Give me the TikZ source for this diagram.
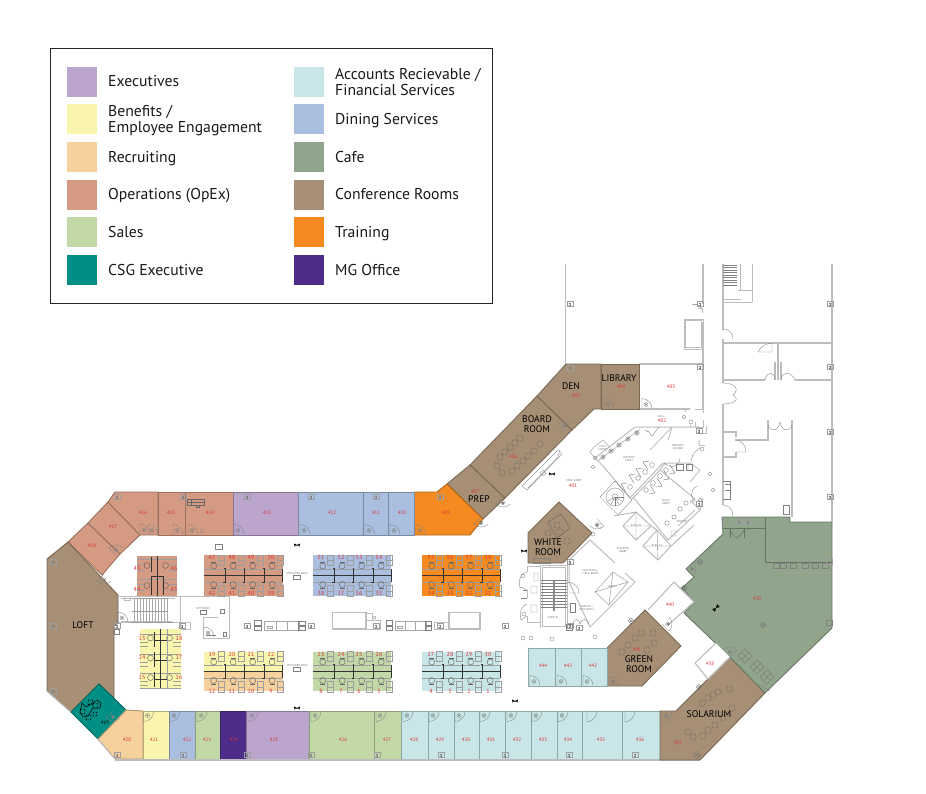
\documentclass[tikz,border=0pt]{standalone}
\usepackage{fontspec}
\setmainfont{PT Sans}
\definecolor{cexec}{HTML}{BBA5CC}
\definecolor{cben}{HTML}{F9F5AC}
\definecolor{crec}{HTML}{F6D09D}
\definecolor{cops}{HTML}{D59A82}
\definecolor{csal}{HTML}{C2D9A7}
\definecolor{ccsg}{HTML}{008F85}
\definecolor{cacc}{HTML}{C8E6E8}
\definecolor{cdin}{HTML}{AABFE0}
\definecolor{ccaf}{HTML}{90A58B}
\definecolor{ccon}{HTML}{A68F75}
\definecolor{ctra}{HTML}{F58B20}
\definecolor{cmg}{HTML}{4E2D8A}
\definecolor{cwall}{HTML}{BDBDBD}
\definecolor{cred}{HTML}{DC3236}
\tikzset{
 rm/.style={fill=#1,draw=#1!72!black,line width=0.9pt,line join=miter},
 wall/.style={draw=cwall,line width=0.8pt},
 hwall/.style={draw=cwall,line width=1.5pt},
 thin wall/.style={draw=black!50,line width=0.35pt},
 desk/.style={draw=black!38,line width=0.4pt},
 blk/.style={draw=black!80,line width=0.7pt},
 seat/.style={draw=black!60,line width=0.45pt},
 rnum/.style={text=cred,font=\fontsize{5}{5.5}\selectfont,inner sep=0pt},
 cnum/.style={text=cred,font=\fontsize{6}{6.5}\selectfont,inner sep=0pt},
 tiny/.style={text=black!55,font=\fontsize{2.8}{3.2}\selectfont,inner sep=0pt,align=center},
 lbl/.style={text=black,font=\fontsize{9.6}{10.6}\selectfont,inner sep=0pt,align=center},
 legt/.style={text=black!90,font=\fontsize{15.7}{16}\selectfont,inner sep=0pt,anchor=base west,align=left},
 swatch/.style={fill=#1,draw=none},
}
\newcommand\door[4]{\begin{scope}[shift={(#1,#2)},rotate=#3,yscale=#4]
 \draw[thin wall] (0,0)--(0,-10) .. controls (5.5,-10) and (10,-5.5) .. (10,0);
 \draw[thin wall] (4,-4) circle[radius=2pt];\draw[thin wall] (4,-4) circle[radius=0.8pt];
\end{scope}}
\newcommand\colm[2]{\begin{scope}[shift={(#1,#2)}]
 \draw[draw=black!38,line width=0.3pt] (-3,-2.5) rectangle (3,2.5);
 \draw[draw=black!50,line width=0.3pt] (-1.3,-1.3)--(1.3,-1.3) (0,-1.3)--(0,1.3) (-1.3,1.3)--(1.3,1.3);
\end{scope}}
\newcommand\xbox[3]{\begin{scope}[shift={(#1,#2)},rotate=45]
 \draw[draw=black!55,line width=0.35pt] (-#3,-#3) rectangle (#3,#3) (-#3,0)--(#3,0) (0,-#3)--(0,#3);
\end{scope}}
\newcommand\hcub[2]{\begin{scope}[shift={(#1,#2)}]
 \foreach \a in {14,34,53,73}{
  \draw[desk] (\a,0) rectangle (\a+6,10) (\a,5)--(\a+6,5);
  \draw[desk] (\a,30) rectangle (\a+6,41) (\a,36)--(\a+6,36);}
 \foreach \a in {0,19.5,39,58.5}{
  \draw[desk] (\a,14)--(\a+19,14) (\a,27)--(\a+19,27);
  \draw[seat] (\a+9.7,11) circle[radius=3pt] (\a+9.7,29.5) circle[radius=3pt];
  \draw[seat] (\a+7,7.5)--(\a+12.4,7.5) (\a+7,33)--(\a+12.4,33);}
 \draw[blk] (0,20.5)--(79,20.5);
 \foreach \a in {20,39.5,59}{\draw[blk] (\a,13.5)--(\a+1,13.5)--(\a+1,27.5)--(\a-1,27.5);}
 \draw[blk] (78,14)--(78,27);
\end{scope}}
\newcommand\lscr[2]{\begin{scope}[shift={(#1,#2)}]
 \fill[black] (-2.8,-1.5)--(0,0)--(-2.8,1.5)--cycle (2.8,-1.5)--(0,0)--(2.8,1.5)--cycle;
 \draw[black!70,line width=0.3pt] (-2.8,0)--(2.8,0);
\end{scope}}
\newcommand\chairs[1]{\foreach \p/\q in {#1}{\draw[draw=black!60,line width=0.45pt,rounded corners=1.6pt] (\p-3,\q-3) rectangle (\p+3,\q+3);}}
\begin{document}
\begin{tikzpicture}[x=1pt,y=-1pt]
\useasboundingbox (0,0) rectangle (926,793);
\fill[white] (0,0) rectangle (926,793);
% legend
\draw[draw=black!85,line width=0.8pt] (50,48) rectangle (492,303);
\foreach \c/\y in {cexec/67,cben/104,crec/142,cops/179.5,csal/217,ccsg/255}{\fill[swatch=\c] (67,\y) rectangle (97,\y+30);}
\foreach \c/\y in {cacc/67,cdin/104,ccaf/142,ccon/179.5,ctra/217,cmg/255}{\fill[swatch=\c] (294,\y) rectangle (324,\y+30);}
\node[legt] (l1) at (108,86) {Executives};
\node[legt] (l2) at (108,132) {Benefits /\\Employee Engagement};
\node[legt] (l3) at (108,162) {Recruiting};
\node[legt] (l4) at (108,199) {Operations (OpEx)};
\node[legt] (l5) at (108,237) {Sales};
\node[legt] (l6) at (108,275) {CSG Executive};
\node[legt] (r1) at (335,95) {Accounts Recievable /\\Financial Services};
\node[legt] (r2) at (335,124) {Dining Services};
\node[legt] (r3) at (335,162) {Cafe};
\node[legt] (r4) at (335,199) {Conference Rooms};
\node[legt] (r5) at (335,237) {Training};
\node[legt] (r6) at (335,275) {MG Office};
% north wing walls
\draw[hwall] (565.5,264)--(565.5,364);
\draw[hwall] (639,364)--(703,364);
\draw[wall,line width=1.1pt] (703,264)--(703,304) (703,322)--(703,409) (639,409)--(690,409);
\draw[wall] (698,308)--(703,308) (684,319)--(703,319)--(703,349)--(684,349)--cycle (685.5,320.5)--(701.5,320.5)--(701.5,347.5)--(685.5,347.5)--cycle;
\draw[wall] (692,304)--(697,304);
\draw[thin wall] (693,304) .. controls (698,304) and (703,308) .. (703,313);
\colm{700}{304}\colm{700}{367}
\draw[hwall] (832,264)--(832,522);
\draw[wall,line width=1.1pt] (723,264)--(723,330) (723,339)--(723,383) (723,404)--(723,505);
\draw[wall,line width=1.1pt] (723,343)--(832,343) (723,380)--(765,380) (795,380)--(832,380) (778,343)--(778,380) (775,362)--(775,380) (781,362)--(781,380);
\draw[wall] (723,302)--(752,302) (752,264)--(752,302) (723,299)--(741,299) (740,264)--(740,290) (738,290)--(752,290);
\foreach \y in {265,267.5,...,285}{\draw[thin wall] (723,\y)--(737,\y);}
\draw[thin wall] (723,329) .. controls (729,329) and (733,333) .. (733,339);
\draw[thin wall] (758,352) .. controls (760,346) and (768,343) .. (772,343)--(772,352)--(758,352);
\draw[thin wall] (775,380) .. controls (775,372) and (767,370) .. (765,380) (781,380) .. controls (781,372) and (791,370) .. (795,380);
\draw[thin wall] (723,383) .. controls (733,383) and (741,388) .. (733,395) .. controls (741,400) and (733,404) .. (723,404);
\draw[wall,line width=1.1pt] (723,432)--(736,432)--(736,437) (736,452)--(736,457)--(723,457) (735,440)--(768,440)--(768,420) (792,420)--(792,517);
\draw[thin wall] (736,440) .. controls (742,440) and (746,446) .. (746,452)--(736,452);
\draw[thin wall] (768,425) .. controls (770,432) and (778,432) .. (780,422) .. controls (782,432) and (790,432) .. (792,425);
\draw[thin wall] (723,481)--(730,481)--(730,499)--(723,499) (725,484)--(730,484)--(730,490)--(725,490);
\draw[thin wall] (723,505) .. controls (729,505) and (733,510) .. (733,516);
\draw[thin wall] (783,505)--(789,505)--(789,514)--(783,514)--cycle;
\colm{830}{304}\colm{830}{367}\colm{830}{432}\colm{830}{497}\colm{570}{304}
% coloured rooms, north wing
\draw[rm=ccon] (470,465)--(537,396)--(572,430)--(505,498)--cycle;
\draw[rm=ccon] (537,396)--(566,364)--(601,364)--(601,409)--(594,409)--(572,430)--cycle;
\draw[rm=ccon] (601,364)--(639,364)--(639,409)--(601,409)--cycle;
\draw[rm=ccon] (447,484)--(470,465)--(505,498)--(483,519)--cycle;
\draw[rm=ctra] (414,492)--(437,492)--(447,484)--(483,519)--(470,535)--(414,535)--cycle;
% top band
\draw[rm=cops] (68,542)--(88,523)--(120,554)--(102,575)--cycle;
\draw[rm=cops] (88,523)--(108,502)--(140,535)--(120,554)--cycle;
\draw[rm=cops] (108,502)--(115,492)--(158,492)--(158,535)--(140,535)--cycle;
\draw[rm=cops] (158,492) rectangle (185,535);
\draw[rm=cops] (185,492) rectangle (233.5,535);
\draw[rm=cexec] (233.5,492) rectangle (298.5,535);
\draw[rm=cdin] (298.5,492) rectangle (363,535);
\draw[rm=cdin] (363,492) rectangle (388,535);
\draw[rm=cdin] (388,492) rectangle (414,535);
% loft and SW
\draw[rm=ccon] (47,559)--(68,542)--(118,595)--(118,622)--(114,627)--(114,698)--(99,684)--(71,712)--(47,691)--cycle;
\draw[rm=ccsg] (99,684)--(126,710)--(98,739)--(71,712)--cycle;
\draw[rm=crec] (126,710)--(143,711)--(143,759)--(115,759)--(98,739)--cycle;
\foreach \c/\a/\b in {cben/143/169,cdin/169/195,csal/195/220,cmg/220/246,cexec/246/309,csal/309/374,csal/374/401.5,cacc/401.5/428,cacc/428/454,cacc/454/479,cacc/479/505,cacc/505/531,cacc/531/557,cacc/557/582,cacc/582/622,cacc/622/660}{\draw[rm=\c] (\a,711) rectangle (\b,759);}
\draw[hwall] (115,760)--(700,760);
\draw[hwall,line width=0.9pt] (47,691)--(71,712) (98,739)--(115,759);
% east rooms
\draw[rm=ccon] (660,711)--(676,711)--(730,657)--(765,693)--(700,760)--(660,760)--cycle;
\draw[rm=ccaf] (722,517)--(790,517)--(790,522)--(832,522)--(832,628)--(765,693)--(730,657)--(684,613)--(694,602)--(682,588)--(694,577)--(686,569)--(723,534)--cycle;
\draw[rm=ccon] (607,648)--(645,610)--(681,646)--(642,686)--(607,686)--cycle;
\draw[rm=ccon] (528,533)--(559,502)--(592,533)--(563,563)--(528,563)--cycle;
\foreach \a/\b in {528/555,555/581,581/607}{\draw[rm=cacc] (\a,648) rectangle (\b,686);}
\draw[wall,line width=1.1pt,fill=white] (648,610)--(674,582)--(694,602)--(668,625);
\draw[wall,line width=1.1pt,fill=white] (716,643)--(695,663)--(708,679)--(730,657);
\draw[draw=ccaf!70!black,line width=0.7pt] (765,518)--(765,562)--(832,562) (723,528)--(765,528) (730,528)--(730,538) (744,528)--(744,538);
\draw[draw=ccaf!55!black,line width=0.3pt] (730,530) .. controls (733,536) and (737,538) .. (737,538) .. controls (737,538) and (741,536) .. (744,530);
\foreach \a in {773,780,790,802,812,822}{\draw[draw=black!50,line width=0.3pt] (\a,563)--(\a+6,563)--(\a+6,568)--(\a,568)--cycle;}
\xbox{745}{656}{5}\xbox{757}{667}{5}\xbox{767}{677}{5}\xbox{763}{625}{2.2}\xbox{700}{562}{2.2}\xbox{684}{588}{2.2}
\draw[draw=black!50,line width=0.3pt] (734,665)--(740,659) (758,684)--(770,691);
\colm{829}{562}
\draw[thin wall] (826,625) rectangle (832,620);
\door{686}{569}{-45}{1}
\door{730}{657}{135}{-1}
\draw[thin wall] (722,528)--(722,517);
\colm{739}{522}\colm{748}{522}
% corridor core: stair and closets near white room
\draw[wall,line width=1pt] (540,565)--(567,565)--(567,627) (540,565)--(540,628);
\draw[wall,line width=0.5pt] (542,567)--(565,567)--(565,626)--(542,626)--cycle;
\foreach \y in {580,583,...,608}{\draw[thin wall] (541,\y)--(567,\y);}
\fill[black!45] (553,580) rectangle (555,611);
\draw[wall] (527,566)--(540,566) (527,566)--(527,572) (527,590)--(527,598) (527,616)--(527,622)--(540,622);
\draw[thin wall] (527,572) .. controls (520,574) and (518,580) .. (520,588) (527,590) .. controls (522,588) and (522,586) .. (520,588);
\draw[thin wall] (527,604) .. controls (521,606) and (519,612) .. (521,620) (527,616) .. controls (523,618) and (522,620) .. (521,620);
\draw[thin wall] (523,590)--(527,590) (521,598)--(527,598);
\draw[thin wall] (534,573) rectangle (538,581) (531,586) rectangle (537,593) (531,605) rectangle (537,612) (523,576) circle[radius=2pt] (524,614) circle[radius=2pt] (523,638) circle[radius=2pt] (531,638) circle[radius=2pt] (552,639) circle[radius=2pt] (595,637) circle[radius=2pt];
\draw[wall,line width=1pt] (569,560)--(590,540)--(615,563) (569,560)--(569,582) (569,625)--(569,628);
\draw[wall,line width=1pt] (569,582)--(590,627)--(635,582)--(625,573);
\draw[wall] (595,592)--(613,572)--(628,582)--(609,605)--cycle;
\draw[thin wall] (595,592)--(628,582) (613,572)--(609,605);
\draw[thin wall] (567,582) .. controls (574,582) and (579,587) .. (579,593)--(569,593);
\draw[thin wall] (570,603) rectangle (575,612) (566,624) rectangle (572,630);
\draw[thin wall] (573,624) .. controls (573,618) and (580,618) .. (580,624) .. controls (582,618) and (587,618) .. (589,624);
\colm{570}{626}\colm{570}{562}
% core
\draw[wall,line width=1pt] (595,458)--(635,427) (635,427)--(699,427)--(699,433) (699,440)--(699,445) (595,458)--(603,466)--(630,498)--(663,463)--(690,463);
\draw[wall] (598,461)--(640,429) (590,452)--(595,458) (590,452)--(594,447)--(603,440)--(610,448);
\foreach \a/\b in {603/457,611/451,619/445,628/439,637/433}{\draw[thin wall] (\a,\b) circle[radius=2.2pt] (\a,\b) circle[radius=1.1pt];}
\foreach \a/\b in {630/487,638/478,645/472,652/465}{\draw[thin wall] (\a,\b) circle[radius=2.4pt];\draw[draw=black!60,line width=0.35pt] (\a-3,\b-4)--(\a-9,\b-3)--(\a-4,\b+5);}
\foreach \a/\b in {646/490,653/483,660/476,666/470}{\draw[thin wall] (\a,\b) circle[radius=2.4pt];\draw[draw=black!60,line width=0.35pt] (\a+3,\b+4)--(\a+9,\b+3)--(\a+4,\b-5);}
\draw[wall,line width=1pt] (632,499)--(660,470)--(695,499)--(690,503) (660,470)--(665,463);
\draw[wall,line width=1pt] (633,497)--(668,540)--(700,510)--(690,500) (700,510)--(703,498);
\draw[thin wall] (600,497)--(615,481)--(632,500)--(618,515)--cycle (615,497) circle[radius=9pt] (615,497) circle[radius=3pt];
\foreach \t in {0,30,...,150}{\draw[thin wall] ({615+9*cos(\t)},{497+9*sin(\t)})--(615,497);}
\draw[wall,line width=1pt] (614,516)--(636,512)--(651,526)--(636,540)--(623,526)--(636,512) (651,526)--(657,530)--(671,546)--(658,560)--(643,546)--(657,530) (671,546)--(694,525);
\draw[thin wall] (636,512)--(636,540) (623,526)--(651,526) (657,530)--(658,560) (643,546)--(671,546);
\foreach \a/\b in {667/523,674/517,680/509,686/503}{\draw[thin wall] (\a,\b) circle[radius=2.2pt];}
\draw[thin wall] (671,531) rectangle (676,536) (678,526)--(695,510);
\draw[thin wall] (659,427)--(652,436)--(648,431) (645,430)--(648,432);
\draw[thin wall] (664,463) .. controls (672,470) and (680,465) .. (680,458);
\draw[wall] (672,427)--(650,450) (672,427)--(668,440);
\draw[wall] (690,463)--(700,470)--(690,482) (677,463)--(677,470) (688,463)--(688,470);
\draw[thin wall] (676,464) rectangle (683,470) (686,464) rectangle (692,470);
\draw[wall] (699,433)--(706,433)--(706,426) (699,445)--(705,445);
\draw[thin wall] (700,448) .. controls (693,452) and (690,460) .. (692,462) (697,486) .. controls (690,490) and (690,498) .. (695,502);
\colm{699}{431}\colm{699}{504}
\draw[thin wall] (702,449) circle[radius=2pt] (691,422) circle[radius=2pt] (684,417) circle[radius=1.8pt] (710,474) circle[radius=1.8pt] (713,490) circle[radius=1.8pt] (700,500) circle[radius=1.8pt] (595,458) circle[radius=1.8pt] (593,467) circle[radius=1.8pt];
\draw[wall] (685,409)--(685,412) (695,409)--(703,409)--(703,413) (690,425)--(690,427) (703,420)--(703,427)--(695,427)--(695,422);
\draw[wall] (528,488)--(558,457)--(560,450);
\draw[thin wall] (522,486)--(558,450)--(562,454)--(527,490)--cycle;
\draw[thin wall] (543,473) circle[radius=2.5pt];
\door{597}{519}{-135}{1}
\draw[thin wall] (593,534) circle[radius=2pt] (597,524) rectangle (601,528);
\colm{579}{628}
% central stair block
\draw[wall,line width=1pt] (118,596)--(229,596)--(229,638)--(203,638)--(203,617)--(218,617) (180,596)--(180,622) (118,596)--(118,622) (118,622)--(190,622)--(190,629)--(180,629)--(180,622);
\draw[wall,line width=0.5pt] (121,598)--(175,598) (121,621)--(172,621) (124,600) rectangle (130,596.5);
\draw[thin wall] (220,609) rectangle (224,613) (206,635)--(216,635) (223,632) rectangle (226,636);
\draw[draw=black!40,line width=1pt] (132,611)--(168,611) (133,598)--(167,598) (131,622)--(174,622);
\foreach \a in {134,137,...,168}{\draw[thin wall,draw=black!35] (\a,598)--(\a,621);}
\door{118}{622}{0}{1}
\door{204}{637}{0}{1}
\colm{117}{626}\colm{182}{626}
\draw[thin wall] (114,629)--(119,629)--(119,634)--(114,634)--cycle;
% mid island
\colm{247}{626}\colm{311}{626}\colm{376}{626}\colm{440}{626}\colm{505}{626}
\draw[draw=cwall,line width=1.3pt] (332.5,612.5) rectangle (366,629);
\draw[wall] (366,620)--(380,620)--(380,629)--(366,629) (366,620)--(366,613)--(372,613)--(372,620) (372,616) rectangle (375,618);
\draw[draw=cwall,line width=1.3pt] (449,612.5) rectangle (480,629);
\draw[wall] (434,622)--(449,622)--(449,629)--(434,629)--cycle;
\foreach \o/\s in {252/1.13,384/1}{
 \begin{scope}[shift={(\o,620)},xscale=\s]
 \draw[thin wall,draw=black!35] (11,1)--(42,1)--(42,10)--(11,10)--cycle (21,1)--(21,10) (31,1)--(31,10);
 \draw[thin wall] (2,0) rectangle (8,5) (2,6) rectangle (8,10) (47,1) rectangle (41,5) (47,6) rectangle (41,10);
 \draw[thin wall,draw=black!35] (13,6) rectangle (18,8);
 \end{scope}}
% cubicle blocks
\fill[cops] (137,556) rectangle (177,596);
\fill[cops] (204,555) rectangle (283,596);
\fill[cdin] (313,555) rectangle (391,596);
\fill[ctra] (422,555) rectangle (500,596);
\fill[cben] (140,629) rectangle (181,688);
\fill[cben] (204,652) rectangle (283,672);
\fill[crec] (204,672) rectangle (283,691);
\fill[csal] (313,652) rectangle (391,691);
\fill[cacc] (422,652) rectangle (500,691);
\hcub{204}{555}\hcub{313}{555}\hcub{422}{555}
\hcub{204}{651}\hcub{313}{651}\hcub{422}{651}
\begin{scope}[shift={(137,556)}]
 \foreach \b in {0,20}{\draw[desk] (0,\b+3)--(40,\b+3) (0,\b+8)--(8,\b+8) (32,\b+8)--(40,\b+8) (0,\b+14)--(8,\b+14) (32,\b+14)--(40,\b+14);
 \draw[seat] (10,\b+9.5) circle[radius=3pt] (28.5,\b+9.5) circle[radius=3pt];}
 \draw[blk] (20,0)--(20,40) (14,20)--(26,20) (14,1)--(14,16) (14,20)--(14,39) (26,20)--(26,39);
\end{scope}
\begin{scope}[shift={(140,629)}]
 \foreach \b in {0,20,39.5}{\draw[desk] (0,\b+5)--(41,\b+5) (0,\b+13)--(8,\b+13) (33,\b+13)--(41,\b+13) (0,\b+17)--(8,\b+17) (33,\b+17)--(41,\b+17);
 \draw[seat] (10.5,\b+9) circle[radius=3pt] (29.5,\b+9) circle[radius=3pt];\draw[blk] (14,\b+3)--(14,\b+18) (14,\b+11)--(27,\b+11);}
 \draw[blk] (20.5,0)--(20.5,59) (14,59)--(27,59);
 \draw[desk] (0,59)--(41,59) (27,0)--(27,59);
\end{scope}
% cubicle numbers
\foreach \a/\t in {212/47,232/48,251/49,271/50,321/51,341/52,359/53,379/54,431/55,450/56,469/57,488/58}{\node[cnum] at (\a,557.5) {\t};}
\foreach \a/\t in {212/42,232/41,251/40,271/39,321/38,341/37,359/36,379/35,431/34,450/33,469/32,488/31}{\node[cnum] at (\a,593) {\t};}
\foreach \a/\t in {212/19,232/20,251/21,271/22,321/23,341/24,359/25,379/26,431/27,450/28,469/29,488/30}{\node[cnum] at (\a,654) {\t};}
\foreach \a/\t in {212/12,232/11,251/10,271/9,321/8,341/7,359/6,379/5,431/4,450/3,469/2,488/1}{\node[cnum] at (\a,691) {\t};}
\foreach \a/\b/\t in {137/568/43,174/568/46,137/589/44,174/589/45,142/638/13,179/638/18,142/657/14,179/657/17,142/677/15,179/677/16}{\node[cnum] at (\a,\b) {\t};}
% room numbers
\foreach \a/\b/\t in {143/513/416,171/513/415,210/513/414,267/513/413,332/513/412,376/513/411,402/513/410,446/513/409,113/527/417,92/546/418,127/740/420,154/740/421,187/740/422,207/740/423,234/740/424,274/740/425,343/740/426,387/740/427,414/740/428,440/740/429,466/740/430,491/740/431,517/740/432,543/740/433,568/740/434,601/740/435,640/740/436,678/743/437,543/666/444,568/666/443,593/666/442,637/650/441,670/605/440,757/599/439,710/664/438,475/492/407,513/457/406,576/396/405,621/387/404,671/387/403,662/421/402,573/486/401}{\node[rnum] at (\a,\b) {\t};}
\node[rnum,text=black] at (105,723) {419};
% doors in rooms
\foreach \a in {148,173,188,234,300,365,390,416}{\door{\a}{534.5}{0}{1}}
\door{116}{555}{45}{1}\door{140}{534}{0}{1}\door{104}{574}{-45}{-1}
\foreach \a in {143.5,170,197,248,311,376,403,429,455,480,507,532,558}{\door{\a}{711.5}{0}{-1}}
\draw[thin wall] (587,711)--(587,722) .. controls (592,722) and (597,716) .. (597,711) (625,711)--(625,722) .. controls (630,722) and (635,716) .. (635,711);
\foreach \a in {530,557,583}{\door{\a}{685.5}{0}{1}}
\door{609}{686}{0}{1}
\door{662}{712}{0}{-1}
\door{604}{408.5}{0}{1}\door{642}{408.5}{0}{1}
\door{565}{431}{45}{1}\door{503}{497}{-45}{-1}\door{481}{517}{-45}{-1}
\door{662}{624}{45}{-1}
% column marks
\foreach \a in {117,183,247,311,376,440}{\colm{\a}{497}}
\foreach \a in {117,183,247,311,377,441,505,569,635}{\colm{\a}{755}}
\colm{53}{626}\colm{53}{691}\colm{53}{562}\colm{570}{368}
\xbox{697}{755}{2.5}\xbox{631}{621}{2}\xbox{699}{687}{2}
% small things
\lscr{297}{545}\lscr{297}{708}\lscr{515}{701}\lscr{524}{551}\lscr{552}{474}
\begin{scope}[shift={(716,608)},rotate=45]\fill[black] (-3.5,-2)--(0,0)--(-3.5,2)--cycle (3.5,-2)--(0,0)--(3.5,2)--cycle;\end{scope}
\draw[thin wall] (215,544) rectangle (222,549);
% tiny labels
\node[tiny] at (297,574) {OPN WORK AREA};\draw[thin wall] (293.5,575.5) rectangle (300.5,579);
\node[tiny] at (297,666) {OPN WORK AREA};\draw[thin wall] (293.5,667.5) rectangle (300.5,671);
\node[tiny] at (203,609) {OPY ROOM};\draw[thin wall] (200,610) rectangle (206,614);
\node[tiny] at (661,416) {HALL};
\node[tiny] at (574,481) {STAIR LOBBY};
\node[tiny] at (629,459) {WOMEN'S\\ROOM};
\node[tiny] at (678,447) {WOMEN'S\\LOUNGE};
\node[tiny] at (666,502) {MEN'S\\ROOM};
\node[tiny] at (682,522) {JANITOR};
\node[tiny] at (603,448) {ELEC.\\CLOSET};
\node[tiny] at (623,550) {ELEVATOR\\LOBBY};
\node[tiny] at (590,572) {ELECTRICAL\\/ TELE. ROOM};
\node[tiny] at (612,587) {SHAFT};
\node[tiny] at (587,608) {SERVICE /\\ELECTRICAL};
\node[tiny] at (553,617) {STAIR `B'};
\node[tiny] at (636,526) {ELEV. P1};\node[tiny] at (657,546) {ELEV. A1};
% furniture
\chairs{500/457,505/452,510/447,515/443,520/438,512/471,517/466,523/461,528/456,534/451,540/444,497/466,502/473}
\chairs{622/652,628/645,635/638,642/633,653/633,638/657,647/650,654/643}
\chairs{702/703,708/698,713/695,718/692,730/689,688/732,693/737,703/736,708/730,715/725,723/718,732/708}
\chairs{557/525,548/533,567/541,560/532,557/547}
\draw[seat] (548,522)--(561,514)--(570,528)--(557,538)--cycle;
\draw[thin wall] (533,558) rectangle (550,563);
\draw[draw=black,line width=0.5pt] (82,703)--(86,707)--(97,700)--(101,703)--(100,708)--(93,708)--(88,716)--(83,717)--(80,712)--cycle;
\draw[draw=black,line width=0.4pt,rounded corners=1pt] (88,700) rectangle (93,705) (93,703) rectangle (98,708) (80,709) rectangle (85,714) (86,715) rectangle (91,720) (93,712) rectangle (97,716);
\door{113}{711}{-45}{-1}
\draw[seat] (187,499) rectangle (204,505) (191,499)--(191,505) (187,502)--(204,502) (196,505) rectangle (199,507);
\draw[thin wall] (202,531) circle[radius=2pt];
% large labels
\node[lbl] (loft) at (83,625) {LOFT};
\node[lbl] at (709,714) {SOLARIUM};
\node[lbl] at (639,664) {GREEN\\ROOM};
\node[lbl] at (548,547) {WHITE\\ROOM};
\node[lbl] at (479,499) {PREP};
\node[lbl] at (537,424) {BOARD\\ROOM};
\node[lbl] at (571,386) {DEN};
\node[lbl] at (619,378) {LIBRARY};
\end{tikzpicture}
\end{document}
